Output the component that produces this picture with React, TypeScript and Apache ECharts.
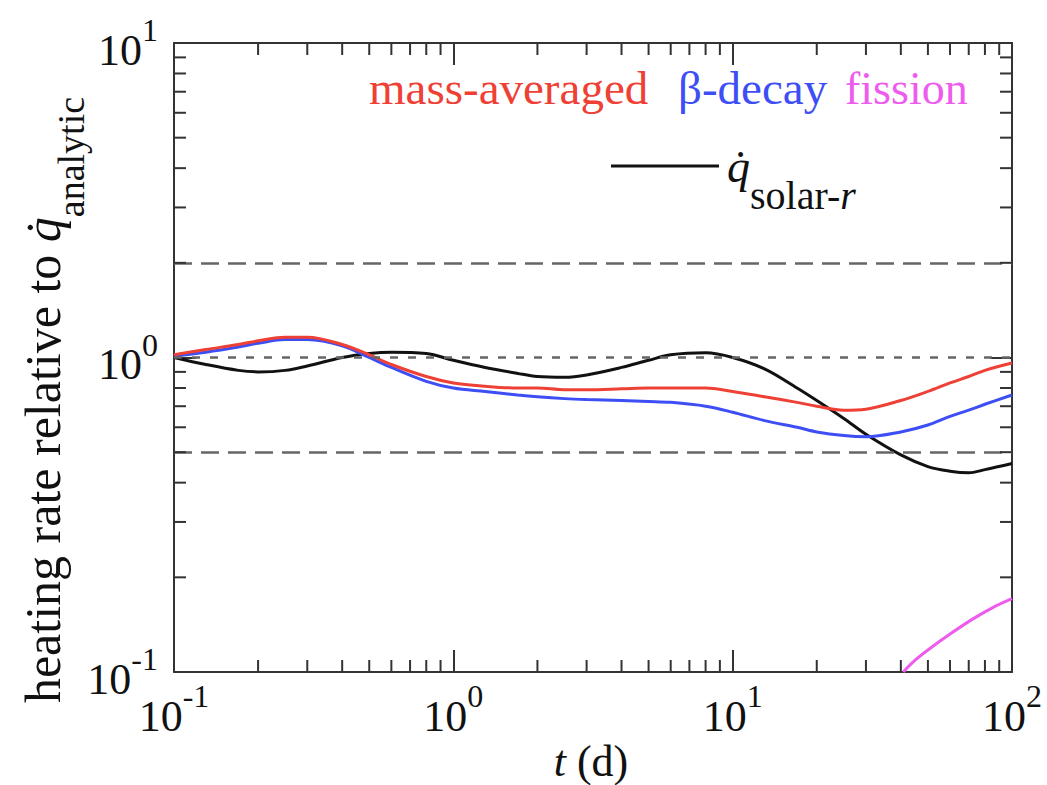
import React, { useEffect, useRef } from "react";
import * as echarts from "echarts";

// Time grid (days) shared by the three full-range curves
const tDays = [0.1, 0.13, 0.17, 0.2, 0.25, 0.3, 0.4, 0.5, 0.6, 0.8, 1, 1.3, 1.7, 2, 2.5, 3, 4, 5, 6, 8, 10, 13, 17, 20, 25, 30, 40, 50, 60, 70, 80, 100];

// Heating rate relative to the analytic rate
const massAveraged = [1.02, 1.06, 1.1, 1.13, 1.16, 1.16, 1.1, 1.02, 0.95, 0.87, 0.83, 0.81, 0.8, 0.8, 0.79, 0.79, 0.795, 0.8, 0.8, 0.8, 0.78, 0.75, 0.72, 0.7, 0.68, 0.685, 0.73, 0.78, 0.83, 0.87, 0.91, 0.96];
const betaDecay = [1.01, 1.04, 1.08, 1.11, 1.14, 1.14, 1.09, 1.0, 0.93, 0.84, 0.8, 0.78, 0.76, 0.75, 0.74, 0.735, 0.73, 0.725, 0.72, 0.7, 0.67, 0.63, 0.6, 0.58, 0.565, 0.56, 0.58, 0.61, 0.65, 0.68, 0.71, 0.76];
const solarR = [1.0, 0.95, 0.91, 0.9, 0.91, 0.94, 1.0, 1.03, 1.04, 1.03, 0.98, 0.93, 0.89, 0.87, 0.865, 0.88, 0.93, 0.98, 1.02, 1.035, 1.0, 0.92, 0.8, 0.73, 0.64, 0.57, 0.49, 0.45, 0.435, 0.43, 0.44, 0.46];

// Fission contribution only rises above the axis floor late
const fissionT = [40.8, 45, 50, 60, 72, 85, 100];
const fission = [0.1, 0.109, 0.1175, 0.132, 0.147, 0.16, 0.171];

// Reference levels
const refLevels = [2, 1, 0.5];

// Minor ticks (2..9 in every decade)
const xMinorTicks = [0.2, 0.3, 0.4, 0.5, 0.6, 0.7, 0.8, 0.9, 2, 3, 4, 5, 6, 7, 8, 9, 20, 30, 40, 50, 60, 70, 80, 90];
const yMinorTicks = [0.2, 0.3, 0.4, 0.5, 0.6, 0.7, 0.8, 0.9, 2, 3, 4, 5, 6, 7, 8, 9];

const X_MIN = 0.1;
const X_MAX = 100;
const Y_MIN = 0.1;
const Y_MAX = 10;

const SERIF = "Liberation Serif";
const AXIS_COLOR = "#333";
const INK = "#111";

const pow10Label = (v: number) => `{b|10}{e|${Math.round(Math.log10(v))}}`;
const labelRich = {
  b: { fontSize: 44, fontFamily: SERIF, color: INK, padding: [14, 0, 0, 0], verticalAlign: "top" },
  e: { fontSize: 32, fontFamily: SERIF, color: INK, verticalAlign: "top" },
};

const zip = (xs: number[], ys: number[]) => xs.map((x, i) => [x, ys[i]]);

function minorTickSeries(axis: "x" | "y", values: number[]) {
  const L = 12;
  return {
    type: "custom",
    coordinateSystem: "cartesian2d",
    xAxisIndex: 0,
    yAxisIndex: 0,
    silent: true,
    clip: false,
    z: 5,
    data: values.map((v) => (axis === "x" ? [v, Y_MIN] : [X_MIN, v])),
    renderItem: (params: any, api: any) => {
      const cs = params.coordSys;
      const p = api.coord([api.value(0), api.value(1)]);
      const style = { stroke: AXIS_COLOR, lineWidth: 2 };
      if (axis === "x") {
        const x = p[0];
        return {
          type: "group",
          children: [
            { type: "line", shape: { x1: x, y1: cs.y + cs.height, x2: x, y2: cs.y + cs.height - L }, style },
            { type: "line", shape: { x1: x, y1: cs.y, x2: x, y2: cs.y + L }, style },
          ],
        };
      }
      const y = p[1];
      return {
        type: "group",
        children: [
          { type: "line", shape: { x1: cs.x, y1: y, x2: cs.x + L, y2: y }, style },
          { type: "line", shape: { x1: cs.x + cs.width, y1: y, x2: cs.x + cs.width - L, y2: y }, style },
        ],
      };
    },
  };
}

function logAxis(kind: "x" | "y", position: string, withLabels: boolean) {
  return {
    type: "log",
    logBase: 10,
    min: kind === "x" ? X_MIN : Y_MIN,
    max: kind === "x" ? X_MAX : Y_MAX,
    position,
    axisLine: { show: true, lineStyle: { color: AXIS_COLOR, width: 2 } },
    axisTick: { show: true, inside: true, length: 22, lineStyle: { color: AXIS_COLOR, width: 2 } },
    minorTick: { show: false },
    splitLine: { show: false },
    axisLabel: withLabels
      ? { show: true, formatter: pow10Label, rich: labelRich, fontFamily: SERIF, margin: kind === "x" ? 8 : 16 }
      : { show: false },
  };
}

export default function App() {
  const ref = useRef<HTMLDivElement>(null);

  useEffect(() => {
    if (!ref.current) return;
    const chart = echarts.init(ref.current, undefined, { renderer: "svg" });

    const refLineStyles: Record<number, any> = {
      2: { type: [18, 9] },
      1: { type: [8, 10] },
      0.5: { type: [18, 9] },
    };

    chart.setOption({
      animation: false,
      backgroundColor: "#ffffff",
      textStyle: { fontFamily: SERIF },
      grid: { left: 174, right: 35, top: 43, bottom: 113, containLabel: false },
      xAxis: [logAxis("x", "bottom", true), logAxis("x", "top", false)],
      yAxis: [logAxis("y", "left", true), logAxis("y", "right", false)],
      series: [
        {
          name: "reference",
          type: "line",
          data: [],
          xAxisIndex: 0,
          yAxisIndex: 0,
          markLine: {
            silent: true,
            symbol: "none",
            label: { show: false },
            data: refLevels.map((v) => ({
              yAxis: v,
              lineStyle: { color: "#666", width: 2.5, ...refLineStyles[v] },
            })),
          },
        },
        {
          name: "solar-r",
          type: "line",
          data: zip(tDays, solarR),
          smooth: 0.35,
          showSymbol: false,
          lineStyle: { color: "#111111", width: 3 },
          z: 3,
        },
        {
          name: "β-decay",
          type: "line",
          data: zip(tDays, betaDecay),
          smooth: 0.35,
          showSymbol: false,
          lineStyle: { color: "#3d4ef5", width: 3 },
          z: 3,
        },
        {
          name: "mass-averaged",
          type: "line",
          data: zip(tDays, massAveraged),
          smooth: 0.35,
          showSymbol: false,
          lineStyle: { color: "#ef4036", width: 3 },
          z: 4,
        },
        {
          name: "fission",
          type: "line",
          data: zip(fissionT, fission),
          smooth: 0.35,
          showSymbol: false,
          lineStyle: { color: "#ee5cee", width: 3 },
          z: 3,
        },
        minorTickSeries("x", xMinorTicks),
        minorTickSeries("y", yMinorTicks),
      ],
      graphic: [
        // y-axis title
        {
          type: "text",
          x: 54,
          y: 400,
          rotation: Math.PI / 2,
          style: {
            text: "{m|heating rate relative to }{q|q\u0307}{s|analytic}",
            align: "center",
            verticalAlign: "middle",
            fontFamily: SERIF,
            fontSize: 50,
            rich: {
              m: { fontFamily: SERIF, fontSize: 50, fill: INK, verticalAlign: "top" },
              q: { fontFamily: SERIF, fontSize: 50, fontStyle: "italic", fill: INK, verticalAlign: "top" },
              s: { fontFamily: SERIF, fontSize: 38, fill: INK, padding: [34, 0, 0, 0], verticalAlign: "top" },
            },
          },
        },
        // x-axis title
        {
          type: "text",
          x: 591,
          y: 761,
          style: {
            text: "{i|t}{r| (d)}",
            align: "center",
            verticalAlign: "middle",
            fontFamily: SERIF,
            fontSize: 44,
            rich: {
              i: { fontFamily: SERIF, fontSize: 44, fontStyle: "italic", fill: INK },
              r: { fontFamily: SERIF, fontSize: 44, fill: INK },
            },
          },
        },
        // legend, first row
        {
          type: "text",
          x: 369,
          y: 88,
          style: { text: "mass-averaged", fontFamily: SERIF, fontSize: 47, fill: "#ef4036", align: "left", verticalAlign: "middle" },
        },
        {
          type: "text",
          x: 678,
          y: 88,
          style: { text: "β-decay", fontFamily: SERIF, fontSize: 47, fill: "#3d4ef5", align: "left", verticalAlign: "middle" },
        },
        {
          type: "text",
          x: 845,
          y: 88,
          style: { text: "fission", fontFamily: SERIF, fontSize: 46, fill: "#ee5cee", align: "left", verticalAlign: "middle" },
        },
        // legend, second row
        {
          type: "line",
          shape: { x1: 611, y1: 166, x2: 719, y2: 166 },
          style: { stroke: "#111111", lineWidth: 3 },
        },
        {
          type: "text",
          x: 727,
          y: 143,
          style: {
            text: "{q|q\u0307}{s|solar-}{r|r}",
            align: "left",
            verticalAlign: "top",
            fontFamily: SERIF,
            fontSize: 46,
            rich: {
              q: { fontFamily: SERIF, fontSize: 46, fontStyle: "italic", fill: INK, verticalAlign: "top" },
              s: { fontFamily: SERIF, fontSize: 40, fill: INK, padding: [32, 0, 0, 0], verticalAlign: "top" },
              r: { fontFamily: SERIF, fontSize: 40, fontStyle: "italic", fill: INK, padding: [32, 0, 0, 0], verticalAlign: "top" },
            },
          },
        },
      ],
    });

    return () => chart.dispose();
  }, []);

  return (
    <div
      ref={ref}
      style={{ position: "fixed", left: 0, top: 0, width: 1047, height: 785, background: "#fff" }}
    />
  );
}
